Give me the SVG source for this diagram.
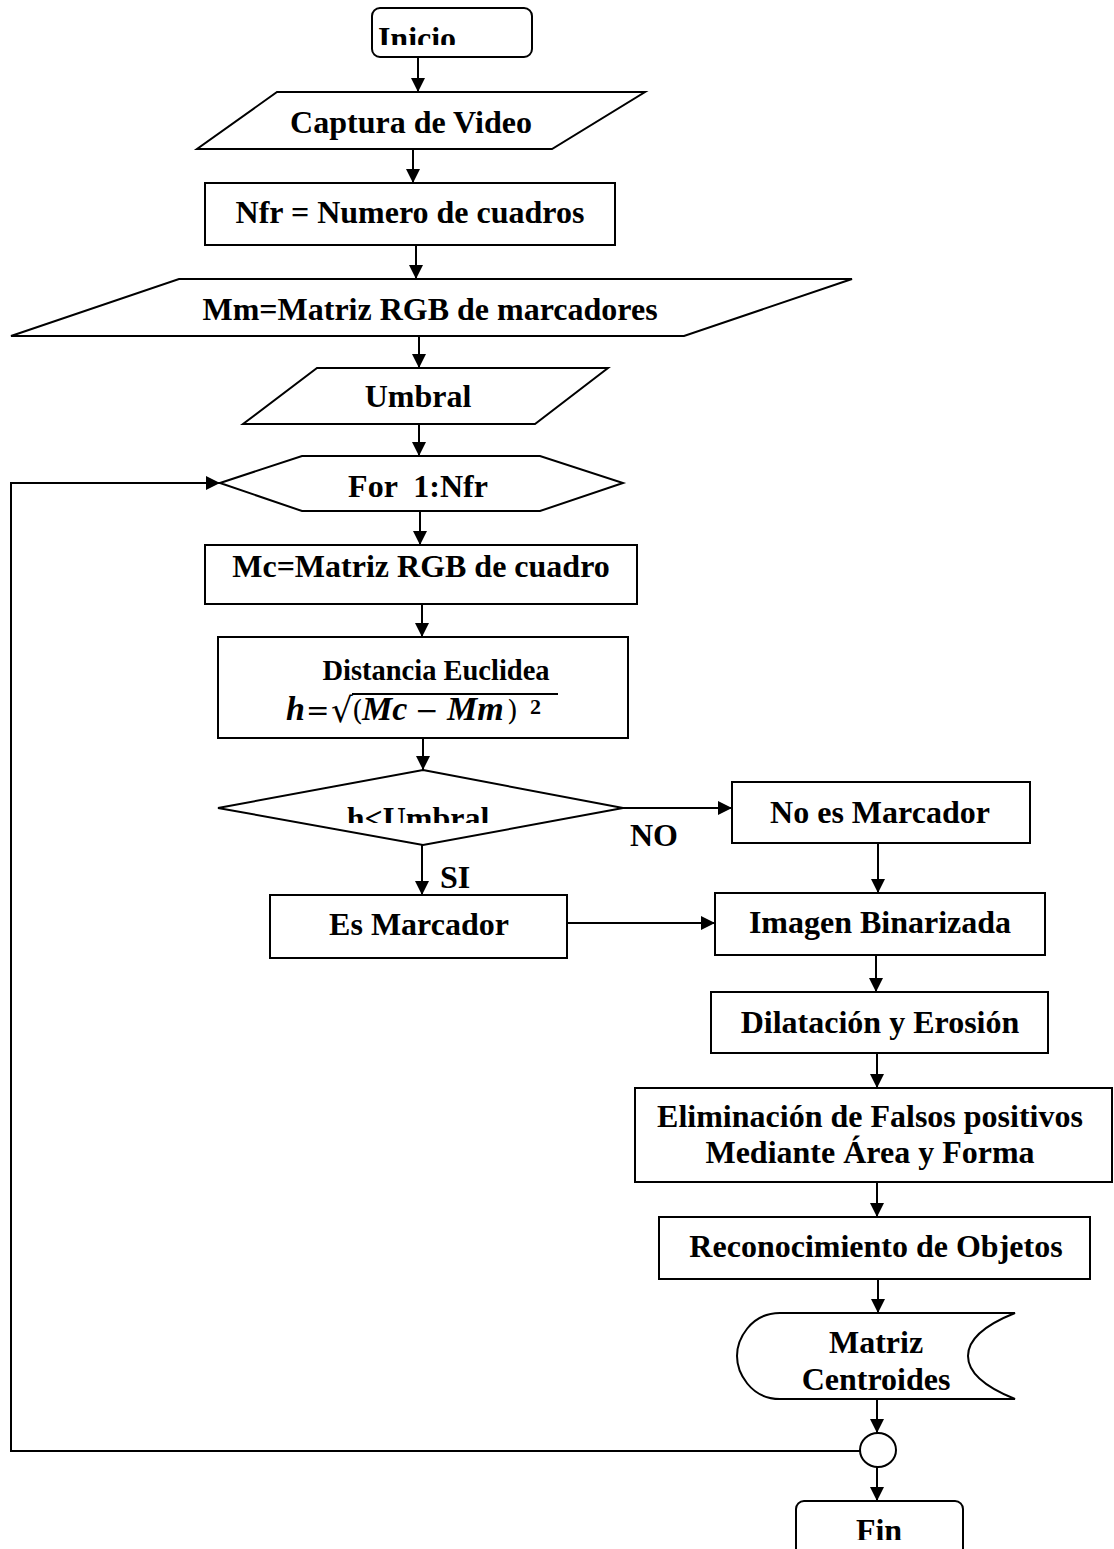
<svg xmlns="http://www.w3.org/2000/svg" width="1114" height="1549" viewBox="0 0 1114 1549">
  <style>
    .shape { fill: #ffffff; stroke: #000000; stroke-width: 2; }
    .wire { fill: none; stroke: #000000; stroke-width: 2; }
    .lbl { font-family: "Liberation Serif", "Times New Roman", serif; font-weight: bold; font-size: 32px; fill: #000000; text-anchor: middle; }
    .tag { font-family: "Liberation Serif", "Times New Roman", serif; font-weight: bold; font-size: 32px; fill: #000000; }
    .math { font-family: "Liberation Serif", "Times New Roman", serif; font-weight: bold; font-style: italic; font-size: 34px; fill: #000000; }
    .sym { font-family: "DejaVu Serif", "Liberation Serif", serif; font-size: 28px; fill: #000000; }
  </style>
  <defs>
    <marker id="arrow" markerUnits="userSpaceOnUse" markerWidth="14" markerHeight="14" refX="14" refY="7" orient="auto">
      <path d="M0,0 L14,7 L0,14 Z" fill="#000000"/>
    </marker>
    <clipPath id="clipInicio"><rect x="300" y="0" width="300" height="45"/></clipPath>
    <clipPath id="clipCond"><rect x="300" y="780" width="250" height="43"/></clipPath>
    <clipPath id="clipFin"><rect x="780" y="1500" width="200" height="40"/></clipPath>
  </defs>

  <!-- connectors -->
  <g id="connectors">
    <line class="wire" x1="418" y1="57" x2="418" y2="92" marker-end="url(#arrow)"/>
    <line class="wire" x1="413" y1="149" x2="413" y2="183" marker-end="url(#arrow)"/>
    <line class="wire" x1="416" y1="245" x2="416" y2="279" marker-end="url(#arrow)"/>
    <line class="wire" x1="419" y1="336" x2="419" y2="368" marker-end="url(#arrow)"/>
    <line class="wire" x1="419" y1="424" x2="419" y2="456" marker-end="url(#arrow)"/>
    <line class="wire" x1="420" y1="511" x2="420" y2="545" marker-end="url(#arrow)"/>
    <line class="wire" x1="422" y1="604" x2="422" y2="637" marker-end="url(#arrow)"/>
    <line class="wire" x1="423" y1="738" x2="423" y2="770" marker-end="url(#arrow)"/>
    <line class="wire" x1="623" y1="808" x2="732" y2="808" marker-end="url(#arrow)"/>
    <line class="wire" x1="422" y1="845" x2="422" y2="895" marker-end="url(#arrow)"/>
    <line class="wire" x1="878" y1="843" x2="878" y2="893" marker-end="url(#arrow)"/>
    <line class="wire" x1="567" y1="923" x2="715" y2="923" marker-end="url(#arrow)"/>
    <line class="wire" x1="876" y1="955" x2="876" y2="992" marker-end="url(#arrow)"/>
    <line class="wire" x1="877" y1="1053" x2="877" y2="1088" marker-end="url(#arrow)"/>
    <line class="wire" x1="877" y1="1182" x2="877" y2="1217" marker-end="url(#arrow)"/>
    <line class="wire" x1="878" y1="1279" x2="878" y2="1313" marker-end="url(#arrow)"/>
    <line class="wire" x1="877" y1="1399" x2="877" y2="1433" marker-end="url(#arrow)"/>
    <line class="wire" x1="877" y1="1466" x2="877" y2="1501" marker-end="url(#arrow)"/>
    <polyline class="wire" points="861,1451 11,1451 11,483 220,483" marker-end="url(#arrow)"/>
    <text class="tag" x="630" y="846">NO</text>
    <text class="tag" x="440" y="888">SI</text>
  </g>

  <g id="inicio">
    <rect class="shape" x="372" y="8" width="160" height="49" rx="8"/>
    <text class="lbl" x="417" y="49" clip-path="url(#clipInicio)">Inicio</text>
  </g>

  <g id="captura">
    <polygon class="shape" points="277,92 645,92 552,149 197,149"/>
    <text class="lbl" x="411" y="133">Captura de Video</text>
  </g>

  <g id="nfr">
    <rect class="shape" x="205" y="183" width="410" height="62"/>
    <text class="lbl" x="410" y="223">Nfr = Numero de cuadros</text>
  </g>

  <g id="marcadores">
    <polygon class="shape" points="179,279 852,279 684,336 11,336"/>
    <text class="lbl" x="430" y="320">Mm=Matriz RGB de marcadores</text>
  </g>

  <g id="umbral">
    <polygon class="shape" points="317,368 608,368 535,424 243,424"/>
    <text class="lbl" x="418" y="407">Umbral</text>
  </g>

  <g id="bucle">
    <polygon class="shape" points="220,483 302,456 540,456 623,483 540,511 302,511"/>
    <text class="lbl" x="418" y="497" xml:space="preserve">For  1:Nfr</text>
  </g>

  <g id="cuadro">
    <rect class="shape" x="205" y="545" width="432" height="59"/>
    <text class="lbl" x="421" y="577">Mc=Matriz RGB de cuadro</text>
  </g>

  <g id="distancia">
    <rect class="shape" x="218" y="637" width="410" height="101"/>
    <text class="lbl" x="436" y="680" style="font-size:28.5px">Distancia Euclidea</text>
    <!-- h = sqrt((Mc - Mm)^2) -->
    <text class="math" x="286" y="720">h</text>
    <text class="sym" x="306" y="720">=</text>
    <text class="sym" x="331" y="722" style="font-size:34px">√</text>
    <line x1="352" y1="694" x2="558" y2="694" stroke="#000000" stroke-width="2"/>
    <text class="sym" x="352" y="720">(</text>
    <text class="math" x="362" y="720">Mc</text>
    <text class="sym" x="415" y="720">−</text>
    <text class="math" x="447" y="720">Mm</text>
    <text class="sym" x="507" y="720">)</text>
    <text class="tag" x="530" y="714" style="font-size:22px">2</text>
  </g>

  <g id="condicion">
    <polygon class="shape" points="423,770 623,808 423,845 218,808"/>
    <text class="lbl" x="418" y="829" clip-path="url(#clipCond)">h&lt;Umbral</text>
  </g>

  <g id="no-marcador">
    <rect class="shape" x="732" y="782" width="298" height="61"/>
    <text class="lbl" x="880" y="823">No es Marcador</text>
  </g>

  <g id="es-marcador">
    <rect class="shape" x="270" y="895" width="297" height="63"/>
    <text class="lbl" x="419" y="935">Es Marcador</text>
  </g>

  <g id="binarizada">
    <rect class="shape" x="715" y="893" width="330" height="62"/>
    <text class="lbl" x="880" y="933">Imagen Binarizada</text>
  </g>

  <g id="morfologia">
    <rect class="shape" x="711" y="992" width="337" height="61"/>
    <text class="lbl" x="880" y="1033">Dilatación y Erosión</text>
  </g>

  <g id="filtrado">
    <rect class="shape" x="635" y="1088" width="477" height="94"/>
    <text class="lbl" x="870" y="1127">Eliminación de Falsos positivos</text>
    <text class="lbl" x="870" y="1163">Mediante Área y Forma</text>
  </g>

  <g id="reconocimiento">
    <rect class="shape" x="659" y="1217" width="431" height="62"/>
    <text class="lbl" x="876" y="1257">Reconocimiento de Objetos</text>
  </g>

  <g id="centroides">
    <path class="shape" d="M780,1313 L1015,1313 C985,1325 968,1340 968,1356 C968,1372 985,1387 1015,1399 L780,1399 C750,1399 737,1372 737,1356 C737,1340 750,1313 780,1313 Z"/>
    <text class="lbl" x="876" y="1353">Matriz</text>
    <text class="lbl" x="876" y="1390">Centroides</text>
  </g>

  <g id="conector">
    <ellipse class="shape" cx="878" cy="1450" rx="18" ry="17"/>
  </g>

  <g id="fin">
    <rect class="shape" x="796" y="1501" width="167" height="60" rx="8"/>
    <text class="lbl" x="879" y="1541" clip-path="url(#clipFin)">Fin</text>
  </g>
</svg>
